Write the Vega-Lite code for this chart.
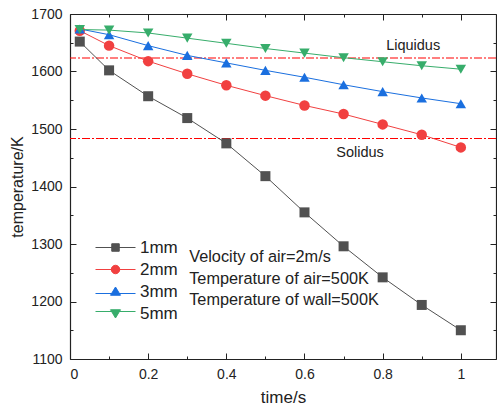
{
  "$schema": "https://vega.github.io/schema/vega-lite/v6.json",
  "width": 426,
  "height": 345,
  "autosize": "none",
  "padding": {"left": 70, "top": 14, "right": 1, "bottom": 51},
  "background": "white",
  "config": {
    "view": {"stroke": null},
    "font": "Liberation Sans",
    "axis": {"grid": false, "domainColor": "#222", "domainWidth": 1.2, "tickColor": "#222", "labelColor": "#222", "titleColor": "#222", "labelFont": "Liberation Sans", "titleFont": "Liberation Sans", "titleFontWeight": "normal", "labelFontSize": 14}
  },
  "datasets": {
    "main": [
      {"t": 0.025, "T": 1652, "s": "1mm"}, {"t": 0.1, "T": 1602, "s": "1mm"}, {"t": 0.2, "T": 1557, "s": "1mm"}, {"t": 0.3, "T": 1519, "s": "1mm"}, {"t": 0.4, "T": 1475, "s": "1mm"}, {"t": 0.5, "T": 1418, "s": "1mm"}, {"t": 0.6, "T": 1355, "s": "1mm"}, {"t": 0.7, "T": 1296, "s": "1mm"}, {"t": 0.8, "T": 1242, "s": "1mm"}, {"t": 0.9, "T": 1194, "s": "1mm"}, {"t": 1.0, "T": 1150, "s": "1mm"},
      {"t": 0.025, "T": 1671, "s": "2mm"}, {"t": 0.1, "T": 1645, "s": "2mm"}, {"t": 0.2, "T": 1618, "s": "2mm"}, {"t": 0.3, "T": 1596, "s": "2mm"}, {"t": 0.4, "T": 1576, "s": "2mm"}, {"t": 0.5, "T": 1558, "s": "2mm"}, {"t": 0.6, "T": 1541, "s": "2mm"}, {"t": 0.7, "T": 1526, "s": "2mm"}, {"t": 0.8, "T": 1508, "s": "2mm"}, {"t": 0.9, "T": 1490, "s": "2mm"}, {"t": 1.0, "T": 1468, "s": "2mm"},
      {"t": 0.025, "T": 1674, "s": "3mm"}, {"t": 0.1, "T": 1664, "s": "3mm"}, {"t": 0.2, "T": 1645, "s": "3mm"}, {"t": 0.3, "T": 1628, "s": "3mm"}, {"t": 0.4, "T": 1615, "s": "3mm"}, {"t": 0.5, "T": 1602, "s": "3mm"}, {"t": 0.6, "T": 1590, "s": "3mm"}, {"t": 0.7, "T": 1577, "s": "3mm"}, {"t": 0.8, "T": 1565, "s": "3mm"}, {"t": 0.9, "T": 1554, "s": "3mm"}, {"t": 1.0, "T": 1544, "s": "3mm"},
      {"t": 0.025, "T": 1673, "s": "5mm"}, {"t": 0.1, "T": 1672, "s": "5mm"}, {"t": 0.2, "T": 1667, "s": "5mm"}, {"t": 0.3, "T": 1658, "s": "5mm"}, {"t": 0.4, "T": 1649, "s": "5mm"}, {"t": 0.5, "T": 1640, "s": "5mm"}, {"t": 0.6, "T": 1632, "s": "5mm"}, {"t": 0.7, "T": 1624, "s": "5mm"}, {"t": 0.8, "T": 1617, "s": "5mm"}, {"t": 0.9, "T": 1610, "s": "5mm"}, {"t": 1.0, "T": 1604, "s": "5mm"}
    ],
    "refs": [
      {"T": 1623.5, "name": "Liquidus", "tx": 0.878, "ty": 1645},
      {"T": 1483.5, "name": "Solidus", "tx": 0.742, "ty": 1459}
    ],
    "notes": [
      {"tx": 0.305, "ty": 1277, "text": "Velocity of air=2m/s"},
      {"tx": 0.305, "ty": 1240, "text": "Temperature of air=500K"},
      {"tx": 0.305, "ty": 1202, "text": "Temperature of wall=500K"}
    ]
  },
  "resolve": {"axis": {"x": "independent", "y": "independent"}},
  "layer": [
    {
      "data": {"name": "refs"},
      "mark": {"type": "rule", "color": "#FF0000", "strokeWidth": 1.2, "strokeDash": [8, 2, 2, 2]},
      "encoding": {
        "y": {"field": "T", "type": "quantitative", "scale": {"domain": [1100, 1700], "nice": false, "zero": false},
          "axis": {"orient": "left", "title": "temperature/K", "titleFontSize": 16, "titleFontWeight": "normal", "titlePadding": 5,
            "values": [1100, 1150, 1200, 1250, 1300, 1350, 1400, 1450, 1500, 1550, 1600, 1650, 1700],
            "labelExpr": "datum.value % 100 == 0 ? format(datum.value, 'd') : ''",
            "tickSize": {"condition": {"test": "datum.value % 100 == 0", "value": -6}, "value": -3},
            "labelPadding": 14}}
      }
    },
    {
      "data": {"name": "main"},
      "transform": [{"filter": "datum.s === '1mm'"}],
      "layer": [
        {"mark": {"type": "line", "strokeWidth": 1, "color": "#515151"}},
        {"mark": {"type": "point", "shape": "square", "filled": true, "opacity": 1, "size": 100, "color": "#515151"}}
      ],
      "encoding": {
        "x": {"field": "t", "type": "quantitative", "scale": {"domain": [0, 1.09], "nice": false, "zero": false},
          "axis": {"orient": "bottom", "title": "time/s", "titleFontSize": 17, "titleFontWeight": "normal", "titlePadding": 8,
            "values": [0, 0.1, 0.2, 0.3, 0.4, 0.5, 0.6, 0.7, 0.8, 0.9, 1.0],
            "labelExpr": "round(datum.value*10) % 2 == 0 ? format(datum.value, '~g') : ''",
            "tickSize": {"condition": {"test": "round(datum.value*10) % 2 == 0", "value": -6}, "value": -3},
            "labelPadding": 14}},
        "y": {"field": "T", "type": "quantitative", "axis": null}
      }
    },
    {
      "data": {"name": "main"},
      "transform": [{"filter": "datum.s === '2mm'"}],
      "layer": [
        {"mark": {"type": "line", "strokeWidth": 1, "color": "#F14040"}},
        {"mark": {"type": "point", "shape": "circle", "filled": true, "opacity": 1, "size": 110, "color": "#F14040"}}
      ],
      "encoding": {
        "x": {"field": "t", "type": "quantitative", "axis": null},
        "y": {"field": "T", "type": "quantitative", "axis": null}
      }
    },
    {
      "data": {"name": "main"},
      "transform": [{"filter": "datum.s === '3mm'"}],
      "layer": [
        {"mark": {"type": "line", "strokeWidth": 1, "color": "#1A6FDF"}},
        {"mark": {"type": "point", "shape": "triangle-up", "filled": true, "opacity": 1, "size": 110, "color": "#1A6FDF"}}
      ],
      "encoding": {
        "x": {"field": "t", "type": "quantitative", "axis": null},
        "y": {"field": "T", "type": "quantitative", "axis": null}
      }
    },
    {
      "data": {"name": "main"},
      "transform": [{"filter": "datum.s === '5mm'"}],
      "layer": [
        {"mark": {"type": "line", "strokeWidth": 1, "color": "#37AD6B"}},
        {"mark": {"type": "point", "shape": "triangle-down", "filled": true, "opacity": 1, "size": 110, "color": "#37AD6B"}}
      ],
      "encoding": {
        "x": {"field": "t", "type": "quantitative", "axis": null},
        "y": {"field": "T", "type": "quantitative", "axis": null}
      }
    },
    {
      "data": {"name": "main"},
      "mark": {"type": "point", "opacity": 0, "size": 100},
      "encoding": {
        "x": {"field": "t", "type": "quantitative", "axis": null},
        "y": {"field": "T", "type": "quantitative", "axis": null},
        "fill": {"field": "s", "type": "nominal", "scale": {"domain": ["1mm", "2mm", "3mm", "5mm"], "range": ["#515151", "#F14040", "#1A6FDF", "#37AD6B"]},
          "legend": {"orient": "none", "legendX": 37, "legendY": 225, "title": null, "labelFontSize": 17, "labelColor": "#222", "labelFont": "Liberation Sans",
            "symbolSize": 100, "symbolOffset": 0, "labelOffset": 16, "rowPadding": 4, "padding": 0, "symbolOpacity": 1, "symbolStrokeWidth": 1}},
        "stroke": {"field": "s", "type": "nominal", "scale": {"domain": ["1mm", "2mm", "3mm", "5mm"], "range": ["#515151", "#F14040", "#1A6FDF", "#37AD6B"]},
          "legend": {"orient": "none", "legendX": 37, "legendY": 225, "title": null, "labelFontSize": 17, "labelColor": "#222", "labelFont": "Liberation Sans",
            "symbolSize": 100, "symbolOffset": 0, "labelOffset": 16, "rowPadding": 4, "padding": 0, "symbolOpacity": 1, "symbolStrokeWidth": 1}},
        "shape": {"field": "s", "type": "nominal", "scale": {"domain": ["1mm", "2mm", "3mm", "5mm"], "range": ["M-4,0H4M-0.75,-0.75H0.75V0.75H-0.75Z", "M-4,0H4M-0.85,0A0.85,0.85,0,1,1,0.85,0A0.85,0.85,0,1,1,-0.85,0Z", "M-4,0.4H4M0,-0.9L1.0,0.75H-1.0Z", "M-4,-0.4H4M0,0.9L1.0,-0.75H-1.0Z"]},
          "legend": {"orient": "none", "legendX": 37, "legendY": 225, "title": null, "labelFontSize": 17, "labelColor": "#222", "labelFont": "Liberation Sans",
            "symbolSize": 100, "symbolOffset": 0, "labelOffset": 16, "rowPadding": 4, "padding": 0, "symbolOpacity": 1, "symbolStrokeWidth": 1}}
      }
    },
    {
      "data": {"name": "refs"},
      "mark": {"type": "text", "fontSize": 14.5, "color": "#222", "align": "center", "baseline": "middle"},
      "encoding": {
        "x": {"field": "tx", "type": "quantitative",
          "axis": {"orient": "top", "title": null, "labels": false,
            "values": [0, 0.1, 0.2, 0.3, 0.4, 0.5, 0.6, 0.7, 0.8, 0.9, 1.0],
            "tickSize": {"condition": {"test": "round(datum.value*10) % 2 == 0", "value": -6}, "value": -3}}},
        "y": {"field": "ty", "type": "quantitative",
          "axis": {"orient": "right", "title": null, "labels": false,
            "values": [1100, 1150, 1200, 1250, 1300, 1350, 1400, 1450, 1500, 1550, 1600, 1650, 1700],
            "tickSize": {"condition": {"test": "datum.value % 100 == 0", "value": -6}, "value": -3}}},
        "text": {"field": "name"}
      }
    },
    {
      "data": {"name": "notes"},
      "mark": {"type": "text", "fontSize": 16.3, "color": "#222", "align": "left", "baseline": "middle"},
      "encoding": {
        "x": {"field": "tx", "type": "quantitative", "axis": null},
        "y": {"field": "ty", "type": "quantitative", "axis": null},
        "text": {"field": "text"}
      }
    }
  ]
}
